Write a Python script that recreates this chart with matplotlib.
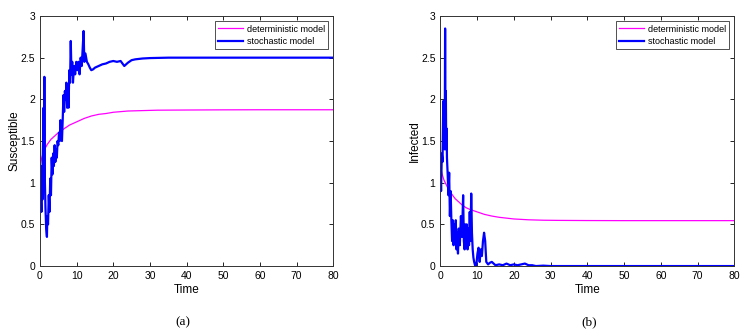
import numpy as np
import matplotlib
matplotlib.use('Agg')
import matplotlib.pyplot as plt

matplotlib.rcParams['font.family'] = ['Liberation Sans', 'DejaVu Sans']

# --- data ---
# (a) susceptible
t_det_s = [0, 0.5, 1, 1.5, 2, 3, 4, 5, 6, 7, 8, 10, 12, 14, 16, 18, 20, 24, 28, 32, 40, 50, 60, 70, 80]
det_s = [1.2, 1.3, 1.37, 1.42, 1.46, 1.52, 1.56, 1.6, 1.63, 1.66, 1.69, 1.73, 1.77, 1.8, 1.82, 1.83, 1.845, 1.86, 1.865, 1.87, 1.872, 1.874, 1.875, 1.875, 1.875]

t_sto_s = [0, 0.2, 0.4, 0.5, 0.7, 0.9, 1.0, 1.1, 1.2, 1.3, 1.5, 1.7, 1.9, 2.0, 2.2, 2.4, 2.6, 2.8, 3.0, 3.2, 3.4,
           3.6, 3.8, 4.0, 4.2, 4.4, 4.6, 4.8, 5.0, 5.2, 5.4, 5.6, 5.8, 6.0, 6.2, 6.4, 6.6, 6.8, 7.0, 7.2,
           7.4, 7.6, 7.8, 8.0, 8.2, 8.4, 8.6, 8.8, 9.0, 9.3, 9.6, 9.9, 10.2, 10.5, 10.8, 11.1, 11.4, 11.7,
           11.9, 12.1, 12.4, 12.8, 13.2, 13.6, 14.0, 14.5, 15.0, 16.0, 17.0, 18.0, 19.0, 20.0, 21.0, 22.0,
           22.5, 23.0, 24.0, 25.0, 26.0, 28.0, 30.0, 35.0, 40.0, 50.0, 60.0, 70.0, 80.0]
sto_s = [1.47, 1.0, 0.65, 1.2, 0.8, 1.15, 1.9, 0.95, 2.27, 1.1, 0.7, 0.45, 0.35, 0.6, 0.5, 0.85, 0.65, 1.05, 0.85, 1.3, 1.1,
         1.35, 1.2, 1.45, 1.25, 1.4, 1.3, 1.5, 1.45, 1.6, 1.5, 1.75, 1.55, 1.5, 1.75, 2.05, 1.85, 2.1, 2.0, 2.2,
         1.9, 2.15, 1.9, 2.35, 2.2, 2.7, 2.3, 2.45, 2.2, 2.4, 2.3, 2.45, 2.35, 2.45, 2.3, 2.5, 2.4, 2.65,
         2.82, 2.45, 2.55, 2.45, 2.42, 2.38, 2.35, 2.36, 2.38, 2.4, 2.42, 2.43, 2.45, 2.46, 2.45, 2.46,
         2.43, 2.4, 2.44, 2.47, 2.48, 2.49, 2.495, 2.5, 2.5, 2.5, 2.5, 2.5, 2.5]

# (b) infected
t_det_i = [0, 0.5, 1, 2, 3, 4, 5, 6, 7, 8, 10, 12, 14, 16, 18, 20, 24, 28, 32, 40, 50, 60, 70, 80]
det_i = [1.2, 1.1, 1.03, 0.94, 0.87, 0.81, 0.77, 0.73, 0.7, 0.68, 0.65, 0.62, 0.6, 0.585, 0.575, 0.565, 0.555, 0.55, 0.548, 0.546, 0.545, 0.545, 0.545, 0.545]

t_sto_i = [0, 0.2, 0.4, 0.6, 0.8, 1.0, 1.1, 1.2, 1.3, 1.4, 1.5, 1.6, 1.7, 1.8, 2.0, 2.2, 2.4, 2.6, 2.8, 3.0,
           3.2, 3.4, 3.6, 3.8, 4.0, 4.2, 4.4, 4.6, 4.8, 5.0, 5.3, 5.6, 5.9, 6.2, 6.4, 6.6, 6.8, 7.0, 7.2,
           7.4, 7.6, 7.8, 8.0, 8.2, 8.4, 8.6, 8.8, 9.0, 9.2, 9.5, 9.8, 10.1, 10.4, 10.7, 11.0, 11.3, 11.6,
           11.9, 12.2, 12.5, 13.0, 13.5, 14.0, 15.0, 16.0, 17.0, 18.0, 19.0, 20.0, 21.0, 22.0, 23.0, 24.0,
           25.0, 26.0, 28.0, 30.0, 40.0, 60.0, 80.0]
sto_i = [1.2, 0.9, 1.35, 1.25, 1.98, 1.5, 1.9, 1.4, 2.85, 1.45, 2.1, 1.4, 1.65, 1.3, 1.1, 0.85, 1.12, 0.6, 0.9, 0.55,
         0.3, 0.55, 0.25, 0.5, 0.3, 0.55, 0.2, 0.4, 0.15, 0.45, 0.25, 0.6, 0.35, 0.85, 0.3, 0.2, 0.5, 0.3, 0.5,
         0.2, 0.45, 0.25, 0.65, 0.3, 0.87, 0.4, 0.2, 0.1, 0.05, 0.0, 0.02, 0.15, 0.22, 0.05, 0.2, 0.12, 0.3,
         0.4, 0.3, 0.05, 0.02, 0.04, 0.05, 0.01, 0.02, 0.01, 0.03, 0.01, 0.02, 0.01, 0.02, 0.03, 0.01,
         0.01, 0.0, 0.005, 0.0, 0.0, 0.0, 0.0]

magenta = '#ff00ff'
blue = '#0000ff'

fig = plt.figure(figsize=(7.54, 3.33), dpi=100)
ax1 = fig.add_axes([0.053, 0.201, 0.389, 0.751])
ax2 = fig.add_axes([0.584, 0.201, 0.390, 0.751])

panels = [(ax1, t_det_s, det_s, t_sto_s, sto_s, 'Susceptible', '(a)', 0.243),
          (ax2, t_det_i, det_i, t_sto_i, sto_i, 'Infected', '(b)', 0.781)]

for ax, td, yd, ts, ys, ylab, tag, xtag in panels:
    ax.plot(td, yd, color=magenta, lw=0.9, label='deterministic model')
    ax.plot(ts, ys, color=blue, lw=1.6, label='stochastic model')
    ax.set_xlim(0, 80)
    ax.set_ylim(0, 3)
    ax.set_xticks(np.arange(0, 81, 10))
    ax.set_yticks([0, 0.5, 1, 1.5, 2, 2.5, 3])
    ax.set_yticklabels(['0', '0.5', '1', '1.5', '2', '2.5', '3'])
    ax.tick_params(direction='in', top=True, right=True, labelsize=7.5, length=3, width=0.6, pad=3.5)
    for s in ax.spines.values():
        s.set_linewidth(0.7)
        s.set_color('#333333')
    ax.set_xlabel('Time', fontsize=8.5, labelpad=2)
    ax.set_ylabel(ylab, fontsize=8.5, labelpad=0)
    leg = ax.legend(loc='upper right', fontsize=6.5, frameon=True, fancybox=False,
                    edgecolor='black', handlelength=2.8, borderpad=0.35, labelspacing=0.35,
                    handletextpad=0.4, borderaxespad=0.6)
    leg.get_frame().set_linewidth(0.6)
    fig.text(xtag, 0.033, tag, ha='center', va='center', fontsize=9.5, family='Liberation Serif')

fig.savefig('out.png', dpi=100)
